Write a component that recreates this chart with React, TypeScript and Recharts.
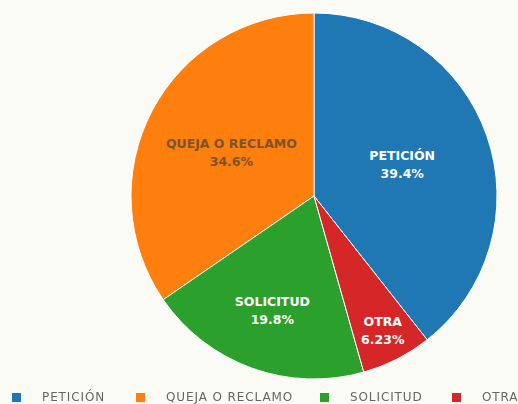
import { Cell, Legend, Pie, PieChart } from 'recharts'

const categories = ['PETICIÓN', 'QUEJA O RECLAMO', 'SOLICITUD', 'OTRA']
const shares = [39.4, 34.6, 19.8, 6.23]
const colors = ['#1f77b4', '#ff7f0e', '#2ca02c', '#d62728']
const labelText = ['39.4%', '34.6%', '19.8%', '6.23%']

const data = categories.map((name, i) => ({ name, value: shares[i] }))

const total = shares.reduce((a, b) => a + b, 0)
// first slice ends at 12 o'clock, the rest follow counterclockwise
const start = 90 - (360 * shares[0]) / total

const RADIAN = Math.PI / 180
const FONT = 'DejaVu Sans, Verdana, sans-serif'

function SliceLabel(props: any) {
  const { cx, cy, midAngle, outerRadius, percent, index } = props
  const k = Math.max(0.51, 0.9 - 1.16 * percent)
  const r = outerRadius * k
  const x = cx + r * Math.cos(-midAngle * RADIAN)
  const y = cy + r * Math.sin(-midAngle * RADIAN)
  const dark = index === 1
  return (
    <text
      x={x}
      y={y}
      textAnchor="middle"
      fontFamily={FONT}
      fontSize={12.5}
      fontWeight="bold"
      fill={dark ? '#7a5428' : '#ffffff'}
    >
      <tspan x={x} dy={-5}>
        {categories[index]}
      </tspan>
      <tspan x={x} dy={18}>
        {labelText[index]}
      </tspan>
    </text>
  )
}

const legendLeft = [12, 136, 320, 452]

function LegendRow() {
  return (
    <div style={{ position: 'relative', width: 518, height: 20, fontFamily: FONT, fontSize: 12, color: '#666' }}>
      {categories.map((c, i) => (
        <div
          key={c}
          style={{
            position: 'absolute',
            left: legendLeft[i],
            top: 0,
            display: 'flex',
            alignItems: 'center',
            whiteSpace: 'nowrap',
            letterSpacing: 0.9,
          }}
        >
          <span style={{ display: 'inline-block', width: 9, height: 9, background: colors[i], marginRight: 21 }} />
          <span>{c}</span>
        </div>
      ))}
    </div>
  )
}

export default function App() {
  return (
    <div style={{ position: 'fixed', left: 0, top: 0, width: 518, height: 404, background: '#fbfbf6' }}>
      <PieChart width={518} height={404} margin={{ top: 0, right: 0, bottom: 0, left: 0 }}>
        <Pie
          data={data}
          dataKey="value"
          nameKey="name"
          cx={314}
          cy={196}
          outerRadius={183}
          startAngle={start}
          endAngle={start + 360}
          stroke="#ffffff"
          strokeWidth={1}
          label={SliceLabel}
          labelLine={false}
          isAnimationActive={false}
        >
          {data.map((d, i) => (
            <Cell key={d.name} fill={colors[i]} />
          ))}
        </Pie>
        <Legend
          verticalAlign="bottom"
          align="left"
          content={() => <LegendRow />}
          wrapperStyle={{ left: 0, bottom: -6, height: 20, width: 518 }}
        />
      </PieChart>
    </div>
  )
}
